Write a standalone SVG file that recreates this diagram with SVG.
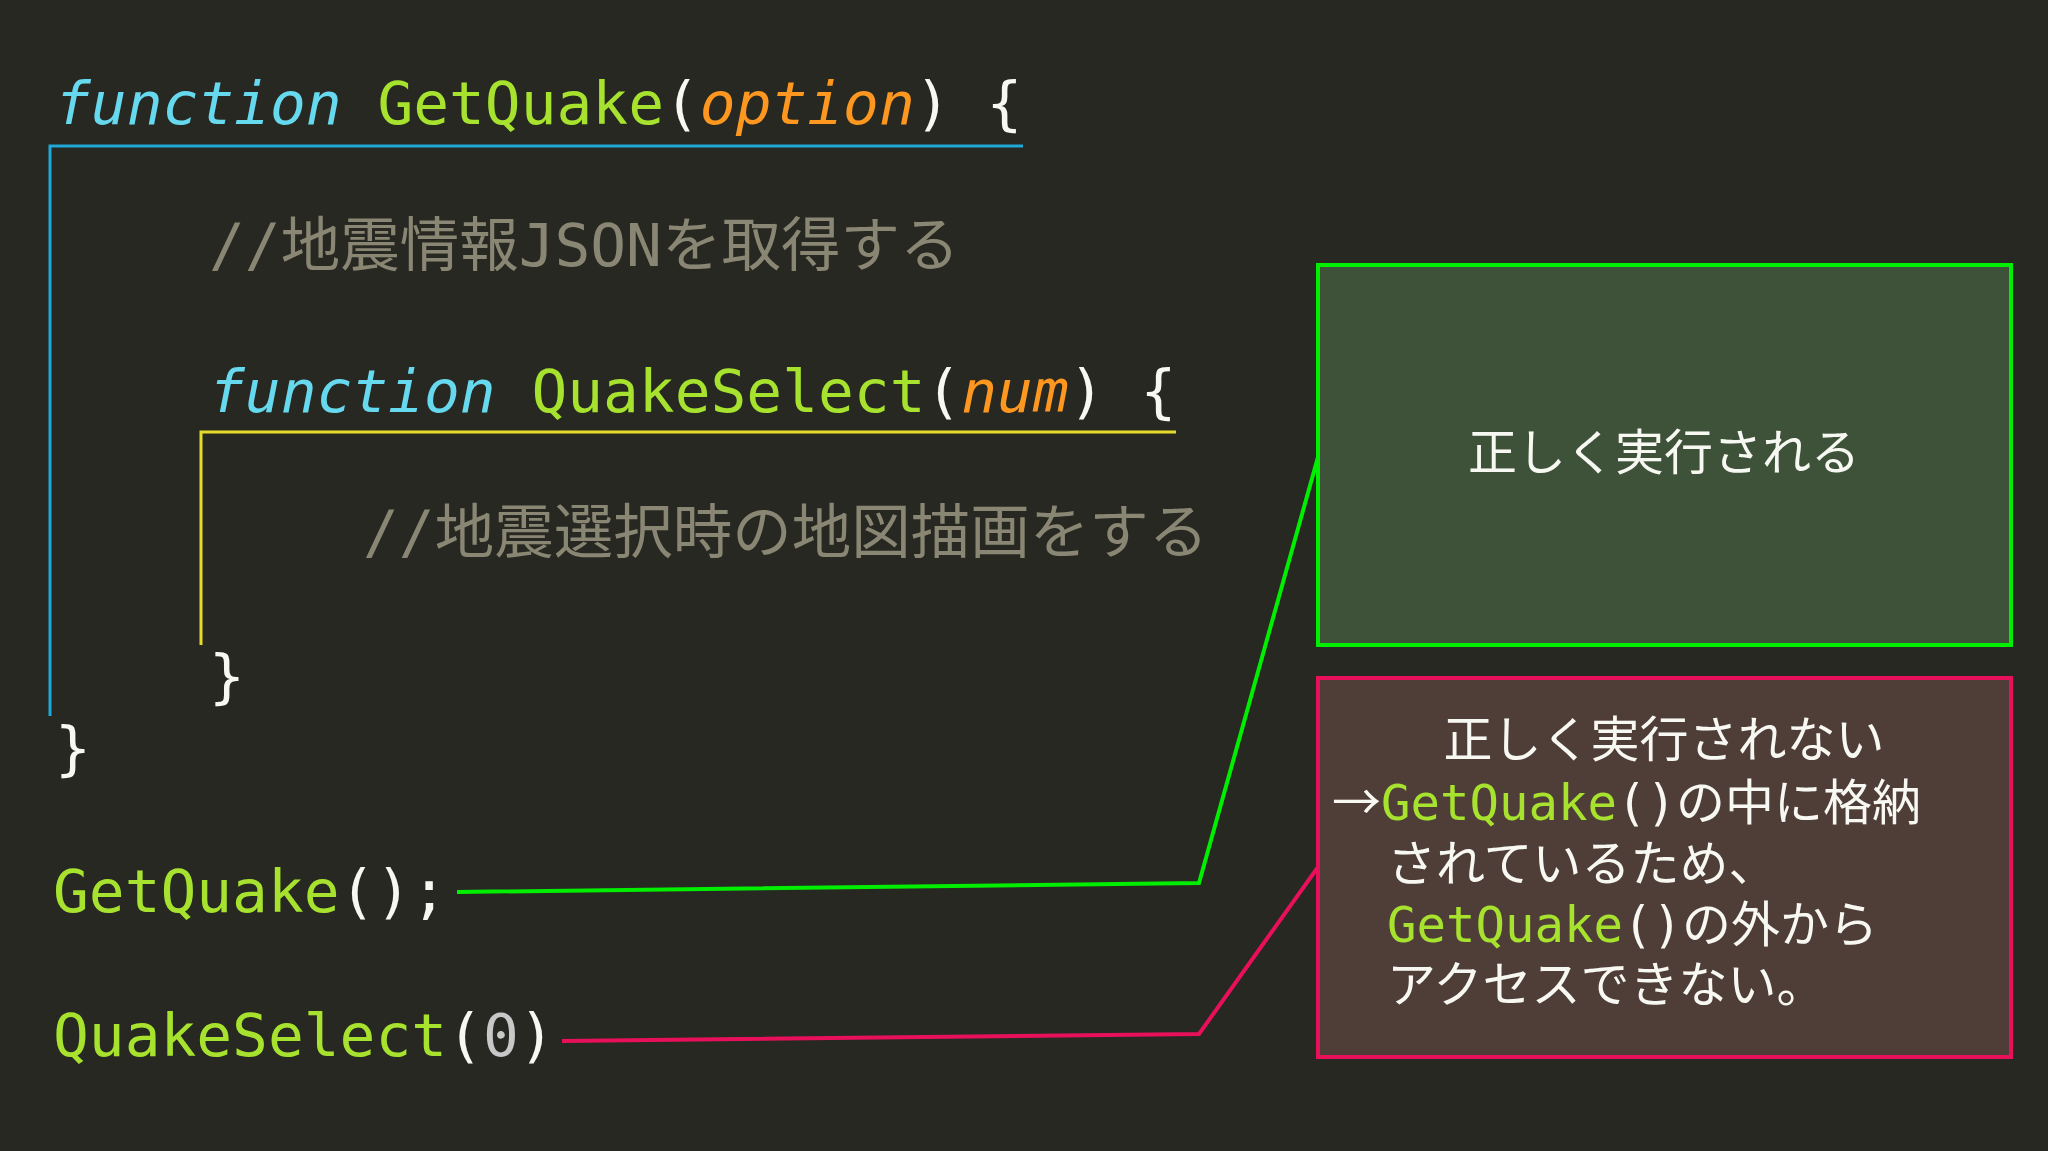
<svg xmlns="http://www.w3.org/2000/svg" width="2048" height="1151" viewBox="0 0 2048 1151">
<style>
.code{font-family:"DejaVu Sans Mono","Noto Sans CJK JP",monospace;font-size:59.5px;fill:#f8f8f2}
.kw{fill:#66d9ef;font-style:italic}
.fn{fill:#a6e22e}
.arg{fill:#fd971f;font-style:italic}
.cm{fill:#8a8674}
.num{fill:#c8c8c8}
.jp{font-family:"Noto Sans CJK JP",sans-serif;font-size:49px;fill:#f8f8f2}
.mono{font-family:"DejaVu Sans Mono",monospace;fill:#a6e22e}
.w{fill:#f8f8f2}
</style>
<rect width="2048" height="1151" fill="#272822"/>
<g id="code">
<text class="code" x="55" y="124"><tspan class="kw">function</tspan> <tspan class="fn">GetQuake</tspan>(<tspan class="arg">option</tspan>) {</text>
<text class="code cm" x="209" y="266">//地震情報JSONを取得する</text>
<text class="code" x="209" y="412"><tspan class="kw">function</tspan> <tspan class="fn">QuakeSelect</tspan>(<tspan class="arg">num</tspan>) {</text>
<text class="code cm" x="363" y="553">//地震選択時の地図描画をする</text>
<text class="code" x="209" y="697">}</text>
<text class="code" x="55" y="769">}</text>
<text class="code fn" x="53" y="912">GetQuake<tspan class="w">();</tspan></text>
<text class="code fn" x="53" y="1056">QuakeSelect<tspan class="w">(</tspan><tspan class="num">0</tspan><tspan class="w">)</tspan></text>
</g>
<g id="scopes" fill="none" stroke-width="3">
<polyline points="1023,146 50,146 50,716" stroke="#1fa8d8"/>
<polyline points="1176,432 201,432 201,645" stroke="#e6db2a"/>
</g>
<g id="ok">
<rect x="1318" y="265" width="693" height="380" fill="#3d5239" stroke="#00ee00" stroke-width="4"/>
<text class="jp" x="1664" y="470" text-anchor="middle">正しく実行される</text>
</g>
<g id="ng">
<rect x="1318" y="678" width="693" height="379" fill="#4f3d38" stroke="#e8105a" stroke-width="4"/>
<text class="jp" x="1664" y="757" text-anchor="middle">正しく実行されない</text>
<text class="jp" x="1332" y="820">→<tspan class="mono">GetQuake<tspan class="w">()</tspan></tspan>の中に格納</text>
<text class="jp" x="1387" y="881">されているため、</text>
<text class="jp" x="1387" y="942"><tspan class="mono">GetQuake<tspan class="w">()</tspan></tspan>の外から</text>
<text class="jp" x="1387" y="1002">アクセスできない。</text>
</g>
<g id="connectors" fill="none" stroke-width="4">
<polyline points="457,892 1199,883 1318,457" stroke="#00ee00"/>
<polyline points="562,1041 1199,1034 1318,867" stroke="#e8105a"/>
</g>
</svg>
